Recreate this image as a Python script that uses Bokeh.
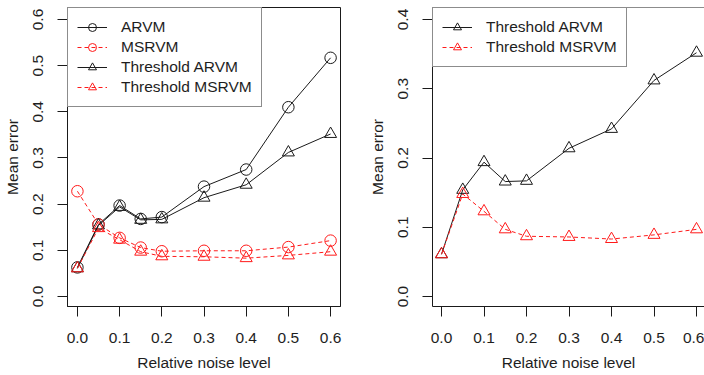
import math
from bokeh.plotting import figure
from bokeh.layouts import row
from bokeh.models import Legend, LegendItem, Range1d, FixedTicker, Span, PrintfTickFormatter
from bokeh.embed import file_html
from bokeh.resources import INLINE

# ---- data ----
noise = [0.0, 0.05, 0.1, 0.15, 0.2, 0.3, 0.4, 0.5, 0.6]
arvm = [0.063, 0.156, 0.197, 0.168, 0.172, 0.238, 0.275, 0.410, 0.517]
msrvm = [0.228, 0.156, 0.127, 0.106, 0.098, 0.099, 0.099, 0.107, 0.121]
thr_arvm = [0.061, 0.154, 0.194, 0.166, 0.167, 0.214, 0.242, 0.312, 0.352]
thr_msrvm = [0.061, 0.148, 0.123, 0.097, 0.087, 0.086, 0.083, 0.089, 0.097]

x_ticks = [0.0, 0.1, 0.2, 0.3, 0.4, 0.5, 0.6]
y_ticks_left = [0.0, 0.1, 0.2, 0.3, 0.4, 0.5, 0.6]
y_ticks_right = [0.0, 0.1, 0.2, 0.3, 0.4]

x_label = "Relative noise level"
y_label = "Mean error"

FONT = "Liberation Sans"
FS = "15.5px"
TXT = "#1e1e1e"
BLACK = "#1a1a1a"
RED = "#ff1a1a"
DASH = "4 3"


def style(p, yticks):
    p.grid.visible = False
    p.background_fill_color = "white"
    p.border_fill_color = "white"
    p.xaxis.ticker = FixedTicker(ticks=x_ticks)
    p.yaxis.ticker = FixedTicker(ticks=yticks)
    for ax in list(p.xaxis) + list(p.yaxis):
        ax.formatter = PrintfTickFormatter(format="%.1f")
        ax.major_tick_out = 10
        ax.major_tick_in = 0
        ax.minor_tick_out = 0
        ax.minor_tick_in = 0
        ax.axis_line_color = BLACK
        ax.axis_line_width = 1
        ax.major_tick_line_color = BLACK
        ax.major_label_text_font = FONT
        ax.major_label_text_font_size = FS
        ax.major_label_text_color = TXT
        ax.axis_label_text_font = FONT
        ax.axis_label_text_font_size = FS
        ax.axis_label_text_font_style = "normal"
        ax.axis_label_text_color = TXT
    p.xaxis.axis_label = x_label
    p.yaxis.axis_label = y_label
    p.xaxis.major_label_standoff = 16
    p.xaxis.axis_label_standoff = 8
    p.yaxis.major_label_orientation = "vertical"
    p.yaxis.major_label_standoff = 14
    p.yaxis.axis_label_standoff = 10


def series(p, y, marker, color, dash):
    l = p.line(noise, y, line_color=color, line_width=1, line_dash=dash)
    s = p.scatter(noise, y, marker=marker, size=12 if marker == "triangle" else 11.5,
                  line_color=color, fill_color=None, line_width=1)
    return [l, s]


def make_legend(items):
    return Legend(items=items, location="top_left", margin=0, padding=9, spacing=0,
                  glyph_height=20, glyph_width=30, label_standoff=14, label_height=20,
                  label_text_font=FONT, label_text_font_size=FS, label_text_color=TXT,
                  border_line_color=BLACK, border_line_width=1,
                  background_fill_color="white", background_fill_alpha=1)


H = 374
BOTTOM = H - 306

# ---- left panel ----
p1 = figure(width=352, height=H, output_backend="svg", toolbar_location=None,
            x_range=Range1d(-0.0235, 0.6235), y_range=Range1d(-0.0217, 0.626),
            min_border_left=65, min_border_right=12, min_border_top=7, min_border_bottom=BOTTOM)
style(p1, y_ticks_left)
p1.outline_line_color = BLACK
p1.outline_line_width = 1
r1 = series(p1, arvm, "circle", BLACK, "solid")
r2 = series(p1, msrvm, "circle", RED, DASH)
r3 = series(p1, thr_arvm, "triangle", BLACK, "solid")
r4 = series(p1, thr_msrvm, "triangle", RED, DASH)
p1.add_layout(make_legend([
    LegendItem(label="ARVM", renderers=r1),
    LegendItem(label="MSRVM", renderers=r2),
    LegendItem(label="Threshold ARVM", renderers=r3),
    LegendItem(label="Threshold MSRVM", renderers=r4),
]))

# ---- right panel ----
p2 = figure(width=352, height=H, output_backend="svg", toolbar_location=None,
            x_range=Range1d(-0.0212, 0.6188), y_range=Range1d(-0.0144, 0.4173),
            min_border_left=80, min_border_right=0, min_border_top=7, min_border_bottom=BOTTOM)
style(p2, y_ticks_right)
p2.outline_line_color = None
p2.add_layout(Span(location=0.4173, dimension="width", line_color=BLACK, line_width=1))
q3 = series(p2, thr_arvm, "triangle", BLACK, "solid")
q4 = series(p2, thr_msrvm, "triangle", RED, DASH)
p2.add_layout(make_legend([
    LegendItem(label="Threshold ARVM", renderers=q3),
    LegendItem(label="Threshold MSRVM", renderers=q4),
]))

layout = row(p1, p2)
open("out.html", "w").write(file_html(layout, INLINE))
